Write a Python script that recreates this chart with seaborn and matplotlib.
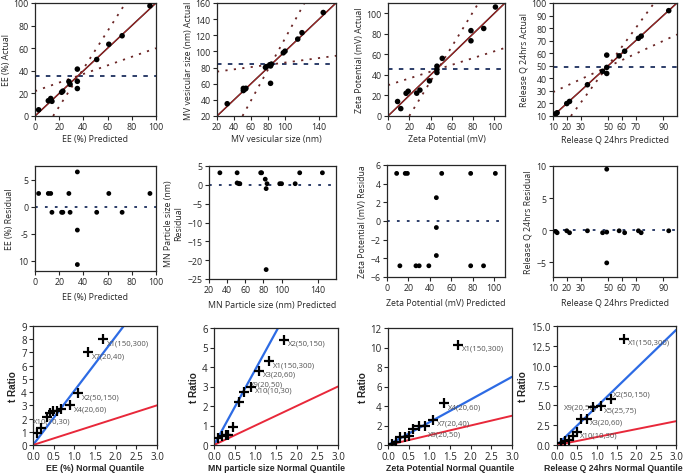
import numpy as np
import pandas as pd
import matplotlib
matplotlib.use("Agg")
import matplotlib.pyplot as plt
import seaborn as sns

# ------- DATA: actual by predicted / residual plots ---------
ee_pred = [3, 11, 13, 14, 22, 23, 28, 29, 35, 35, 35, 51, 61, 72, 95]
ee_resid = [2.5, 2.5, 2.5, -1, -1, -1, 2.5, -1, 6.5, -4.3, -10.7, -1, 2.5, -1, 2.5]

mn_pred = [32, 51, 51, 53, 54, 77, 78, 82, 83, 84, 83, 98, 100, 115, 120, 145]
mn_resid = [3.2, 3.2, 0.5, 0.3, 0.3, 3.2, 3.2, 1.5, -1, 0.3, -22.5, 0.3, 0.3, 0.3, 3.2, 3.2]

zeta_pred = [9, 12, 17, 19, 27, 30, 39, 46, 46, 46, 51, 78, 78, 90, 101]
zeta_resid = [5.1, -4.8, 5.1, 5.1, -4.8, -4.8, -4.8, 2.5, -0.7, -3.7, 5.1, 5.1, -4.8, -4.8, 5.1]

rel_pred = [12, 13, 20, 22, 35, 46, 49, 49, 49, 58, 62, 72, 74, 94]
rel_resid = [-0.2, -0.4, -0.1, -0.4, -0.1, -0.4, -0.3, 9.5, -5.1, -0.1, -0.4, -0.1, -0.4, -0.1]

# confidence lines (slope, intercept) and response mean
conf_steep = [(1.67, -25), (1.92, -76), (1.69, -33.8), (1.49, -24.3)]
conf_shallow = [(0.38, 22), (0.14, 72.2), (0.33, 30), (0.51, 23.9)]
resp_mean = [35, 84, 46, 49]

# ------- DATA: half normal plots ---------
ee_q = [0.1, 0.2, 0.33, 0.4, 0.48, 0.58, 0.68, 0.9, 1.1, 1.33, 1.7]
ee_t = [0.9, 1.3, 2.1, 2.4, 2.6, 2.6, 2.7, 3.0, 3.9, 7.0, 8.0]
ee_lab = ["", "", "X10(10,30)", "", "", "", "", "X4(20,60)", "X2(50,150)", "X7(20,40)", "X1(150,300)"]

mn_q = [0.1, 0.2, 0.3, 0.35, 0.47, 0.6, 0.72, 0.9, 1.1, 1.33, 1.7]
mn_t = [0.35, 0.45, 0.5, 0.5, 0.9, 2.2, 2.7, 3.0, 3.8, 4.3, 5.4]
mn_lab = ["", "", "", "", "", "", "X9(20,50)", "X10(10,30)", "X3(20,60)", "X1(150,300)", "X2(50,150)"]

zeta_q = [0.1, 0.2, 0.3, 0.4, 0.5, 0.6, 0.75, 0.9, 1.1, 1.35, 1.7]
zeta_t = [0.1, 0.3, 0.8, 0.8, 0.9, 1.6, 1.9, 2.0, 2.6, 4.3, 10.3]
zeta_lab = ["", "", "", "", "", "", "", "X9(20,50)", "X7(20,40)", "X4(20,60)", "X1(150,300)"]

rel_q = [0.1, 0.2, 0.3, 0.4, 0.5, 0.6, 0.75, 0.9, 1.1, 1.35, 1.7]
rel_t = [0.2, 0.5, 0.6, 1.1, 1.7, 3.3, 3.3, 4.8, 4.9, 5.8, 13.4]
rel_lab = ["", "", "", "", "X10(10,30)", "", "X3(20,60)", "X9(20,50)", "X5(25,75)", "X2(50,150)", "X1(150,300)"]

blue_slope = [4.1, 3.87, 2.33, 4.83]

# ------- STYLE ---------
sns.set_style("ticks")
plt.rcParams["font.family"] = ["Open Sans", "DejaVu Sans"]
plt.rcParams["axes.linewidth"] = 0.9
plt.rcParams["xtick.major.size"] = 3
plt.rcParams["ytick.major.size"] = 3
plt.rcParams["xtick.major.pad"] = 1.5
plt.rcParams["ytick.major.pad"] = 1.5

W, H = 685, 477
fig = plt.figure(figsize=(W / 100, H / 100), dpi=100)


def box(x0, x1, y0, y1):
    return fig.add_axes([x0 / W, 1 - y1 / H, (x1 - x0) / W, (y1 - y0) / H])


TICK = 6.3
LAB = 6.3

# ------- ROW 1: ACTUAL BY PREDICTED ---------
top_specs = [
    (ee_pred, ee_resid, (35, 156), (0, 100), [0, 20, 40, 60, 80, 100], [0, 20, 40, 60, 80, 100],
     "EE (%) Predicted", "EE (%) Actual"),
    (mn_pred, mn_resid, (217, 336), (20, 160), [20, 40, 60, 80, 100, 140], list(range(20, 161, 20)),
     "MV vesicular size (nm)", "MV vesicular size (nm) Actual"),
    (zeta_pred, zeta_resid, (388, 505), (0, 110), [0, 20, 40, 60, 80, 100], [0, 20, 40, 60, 80, 100],
     "Zeta Potential (mV)", "Zeta Potential (mV) Actual"),
    (rel_pred, rel_resid, (553, 677), (10, 100), [10, 20, 30, 50, 60, 70, 90], list(range(10, 101, 10)),
     "Release Q 24hrs Predicted", "Release Q 24hrs Actual"),
]

for i, (pred, resid, (x0, x1), lim, xt, yt, xl, yl) in enumerate(top_specs):
    ax = box(x0, x1, 4, 117)
    df = pd.DataFrame({"pred": pred, "actual": np.array(pred) + np.array(resid)})
    ax.set_xlim(lim)
    ax.set_ylim(lim)
    ax.axhline(resp_mean[i], color="#1c2f5e", lw=1.3, ls=(0, (2.5, 3.5)))
    m, b = conf_steep[i]
    ax.axline((0, b), slope=m, color="#6b2626", lw=1.3, ls=(0, (1.2, 3.5)))
    m, b = conf_shallow[i]
    ax.axline((0, b), slope=m, color="#6b2626", lw=1.3, ls=(0, (1.2, 3.5)))
    ax.axline((lim[0], lim[0]), slope=1, color="#3a0c0c", lw=1.1)
    ax.axline((lim[0], lim[0]), slope=1, color="#e03030", lw=0.4)
    sns.scatterplot(data=df, x="pred", y="actual", ax=ax, color="black", s=16,
                    edgecolor="none", zorder=5, legend=False)
    ax.set_xticks(xt)
    ax.set_yticks(yt)
    ax.tick_params(labelsize=TICK, width=0.8)
    ax.set_xlabel(xl, fontsize=LAB, labelpad=2)
    ax.set_ylabel(yl, fontsize=LAB, labelpad=2)
    for s in ax.spines.values():
        s.set_visible(True)

# ------- ROW 2: RESIDUAL BY PREDICTED ---------
res_specs = [
    (ee_pred, ee_resid, (35, 156, 167, 272), (0, 100), (-11.9, 7.6), [0, 20, 40, 60, 80, 100],
     [5, 0, -5, -10], ["5", "0", "-5", "10"], "EE (%) Predicted", "EE (%) Residual"),
    (mn_pred, mn_resid, (209, 336, 167, 280), (20, 160), (-25, 5), [20, 40, 60, 80, 100, 140],
     [5, 0, -5, -10, -15, -20, -25], None, "MN Particle size (nm) Predicted",
     "MN Particle size (nm)\nResidual"),
    (zeta_pred, zeta_resid, (387, 505, 166, 278), (0, 110), (-6, 6), [0, 20, 40, 60, 80, 100],
     [6, 4, 2, 0, -2, -4, -6], None, "Zeta Potential (mV) Predicted", "Zeta Potential (mV) Residua"),
    (rel_pred, rel_resid, (553, 677, 167, 278), (10, 100), (-7.3, 10), [10, 20, 30, 50, 60, 70, 90],
     [10, 5, 0, -5], None, "Release Q 24hrs Predicted", "Release Q 24hrs Residual"),
]

for pred, resid, (x0, x1, y0, y1), xlim, ylim, xt, yt, ytl, xl, yl in res_specs:
    ax = box(x0, x1, y0, y1)
    df = pd.DataFrame({"pred": pred, "resid": resid})
    ax.set_xlim(xlim)
    ax.set_ylim(ylim)
    ax.axhline(0, color="#1c2f5e", lw=1.3, ls=(0, (1.5, 4)))
    sns.scatterplot(data=df, x="pred", y="resid", ax=ax, color="black", s=12,
                    edgecolor="none", zorder=5, legend=False)
    ax.set_xticks(xt)
    ax.set_yticks(yt)
    if ytl is not None:
        ax.set_yticklabels(ytl)
    ax.tick_params(labelsize=TICK, width=0.8)
    ax.set_xlabel(xl, fontsize=LAB, labelpad=4)
    ax.set_ylabel(yl, fontsize=LAB, labelpad=3)

# ------- ROW 3: HALF NORMAL PLOTS ---------
hn_specs = [
    (ee_q, ee_t, ee_lab, (33, 157, 327), (0, 9), list(range(0, 10)), "EE (%) Normal Quantile", "{:.0f}"),
    (mn_q, mn_t, mn_lab, (214, 338, 329), (0, 6), list(range(0, 7)), "MN particle size Normal Quantile", "{:.0f}"),
    (zeta_q, zeta_t, zeta_lab, (388, 512, 329), (0, 12), list(range(0, 13, 2)),
     "Zeta Potential Normal Quantile", "{:.0f}"),
    (rel_q, rel_t, rel_lab, (557, 676, 327), (0, 15), [0, 2.5, 5, 7.5, 10, 12.5, 15],
     "Release Q 24hrs Normal Quantile", "{:.1f}"),
]
xlabel_x = [0.5, 0.5, 0.5, 0.47]

for i, (q, t, labs, (x0, x1, y0), ylim, yt, xl, fmt) in enumerate(hn_specs):
    ax = box(x0, x1, y0, 446)
    df = pd.DataFrame({"q": q, "t": t})
    ax.set_xlim(0, 3)
    ax.set_ylim(ylim)
    ax.axline((0, 0), slope=blue_slope[i], color="#2d6be4", lw=1.6, zorder=2)
    ax.axline((0, 0), slope=1, color="#e8283a", lw=1.4, zorder=2)
    sns.scatterplot(data=df, x="q", y="t", ax=ax, color="black", marker="+", s=60,
                    linewidth=1.6, zorder=5, legend=False)
    span = ylim[1] - ylim[0]
    for qq, tt, lb in zip(q, t, labs):
        if not lb:
            continue
        dx, dy = 0.09, -0.03 * span
        if i == 0 and lb == "X10(10,30)":
            dx, dy = -0.32, -0.03 * span
        if i == 1 and lb == "X9(20,50)":
            dx, dy = 0.15, 0.07 * span
        if i == 2 and lb == "X9(20,50)":
            dx, dy = 0.07, -0.07 * span
        if i == 3 and lb == "X9(20,50)":
            dx, dy = -0.72, 0.0
        if i == 3 and lb == "X2(50,150)":
            dx, dy = 0.06, 0.04 * span
        ax.text(qq + dx, tt + dy, lb, fontsize=5.6, color="#555555", va="center", ha="left")
    ax.set_xticks([0, 0.5, 1, 1.5, 2, 2.5, 3])
    ax.set_xticklabels(["0.0", "0.5", "1.0", "1.5", "2.0", "2.5", "3.0"])
    ax.set_yticks(yt)
    ax.set_yticklabels([fmt.format(v) for v in yt])
    ax.tick_params(labelsize=7, width=0.8)
    ax.set_xlabel(xl, fontsize=6.3, fontweight="bold", family=["Liberation Sans"], labelpad=3)
    ax.xaxis.set_label_coords(xlabel_x[i], -0.15)
    ax.set_ylabel("t Ratio", fontsize=7.2, fontweight="bold", family=["Liberation Sans"], labelpad=2)

fig.savefig("out.png", dpi=100)
